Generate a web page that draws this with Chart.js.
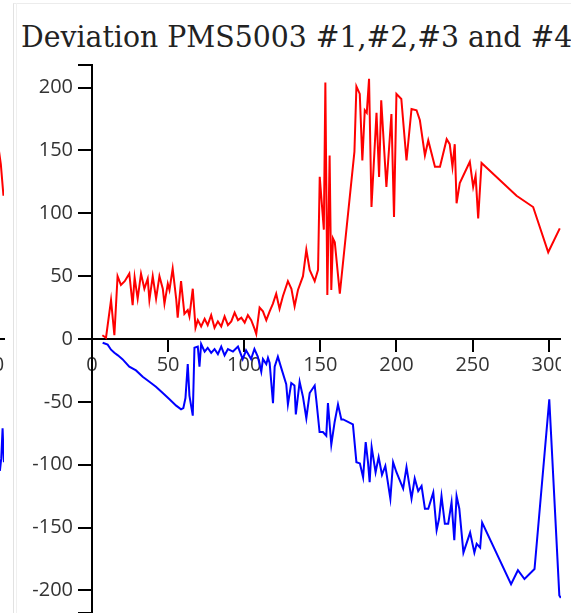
<!DOCTYPE html>
<html>
<head>
<meta charset="utf-8">
<script src="https://cdn.jsdelivr.net/npm/chart.js@4.4.1/dist/chart.umd.min.js"></script>
<style>
  html, body { margin: 0; padding: 0; background: #fff; width: 571px; height: 613px; overflow: hidden; }
  #panel { position: absolute; left: 13px; top: 3px; right: 0; bottom: 0;
           border-left: 1px solid #e2e2e2; border-top: 1px solid #ececec; }
  #panel2 { position: absolute; left: 16px; top: 3px; bottom: 0; border-left: 1px solid #f0f0f0; }
  #title { position: absolute; left: 21px; top: 20px; font-family: "DejaVu Serif", serif;
           font-size: 29px; color: #222; white-space: nowrap;
           transform: scaleX(0.977); transform-origin: 0 0; }
  #wrap { position: absolute; left: 0; top: 0; width: 561px; height: 613px; overflow: hidden; }
  #prev { position: absolute; left: -295px; top: 0; width: 300px; height: 613px; overflow: hidden; }
</style>
</head>
<body>
<div id="prev"><canvas id="p" width="300" height="613"></canvas></div>
<div id="panel"></div>
<div id="panel2"></div>
<div id="title">Deviation PMS5003 #1,#2,#3 and #4</div>
<div id="wrap"><canvas id="c" width="561" height="613"></canvas></div>
<script>
// Deviation of sensor pair #1/#2 (red) and #3/#4 (blue) per sample
const redX = [6.8, 9.2, 12.5, 14.7, 16.8, 19, 21.5, 24.5, 26.7, 28, 30, 32.2, 34.4, 36.6, 37.7, 39.9, 42.1, 44.3, 46.5, 47.6,
  49.8, 50.9, 53, 55.3, 56.3, 58.5, 60.7, 62.9, 64, 66.2, 68, 69.5, 71.7, 74, 76, 78.3, 80.5, 82.7, 84.9, 87.1,
  89.3, 91.5, 93.7, 95.9, 98.1, 100.3, 102.4, 104.6, 106.8, 107.9, 110.1, 112.3, 114.5, 116.7, 118.8, 121, 123.2, 125.4, 128.7, 131,
  133.1, 135.3, 138.6, 140.8, 143, 146.3, 148.5, 149.6, 152.3, 153.3, 154.6, 156.1, 157.2, 158.3, 159.5, 162.8, 172.4, 173.7, 175.9, 177.6,
  179.2, 180.5, 182, 183.6, 186.9, 188.6, 190, 193.4, 196.7, 198.4, 200, 203.2, 206.6, 209.9, 213.2, 215.4, 218.7, 220.9, 225.3, 228.6,
  233, 235, 236.8, 238.3, 239.5, 241.6, 248.2, 250.4, 252, 253.7, 255.9, 278.9, 289.8, 299.7, 307.3];
const redY = [3, 1, 31, 3, 50, 43, 46, 52, 27, 49, 32, 52, 40, 48, 31, 50, 32, 50, 40, 28,
  44, 39, 56, 32, 17, 46, 20, 23, 18, 40, 9, 15, 10, 16, 11, 19, 9, 14, 10, 18,
  11, 14, 21, 15, 17, 13, 19, 15, 8, 4, 25, 22, 15, 22, 28, 36, 24, 34, 46, 40,
  26, 39, 50, 71, 55, 46, 55, 129, 87, 204, 35, 146, 39, 80, 77, 36, 149, 201, 195, 142,
  182, 180, 207, 105, 180, 129, 190, 121, 179, 97, 195, 191, 142, 183, 182, 174, 146, 158, 137, 137,
  159, 155, 137, 155, 108, 124, 141, 121, 130, 96, 140, 114, 105, 69, 88];

const blueX = [7, 10.3, 12.5, 14.7, 17, 20, 24.5, 28.9, 33.3, 37.7, 42, 46.5, 50.9, 55.3, 58.5, 60, 61.4, 62.9, 64, 66.2,
  67.3, 69.5, 70.6, 71.7, 74, 76, 78.3, 80.5, 82.7, 84.9, 87.1, 89.3, 92.6, 95.9, 99, 101.2, 104.5, 106.7, 108.9, 111.2,
  112.3, 114.5, 115.6, 116.7, 118.9, 120, 122.1, 124.3, 127.6, 128.7, 130.9, 133, 133.9, 136.4, 138.6, 140.8, 143, 146.3, 147.4, 149.5,
  151.7, 153.9, 155, 157.2, 159.4, 161.6, 163.8, 165, 171.4, 173.7, 176, 178.1, 179.8, 181.3, 182.4, 183.7, 186.3, 188.3, 190.5, 192.7,
  196, 197.8, 200, 204.4, 206.6, 209.9, 212, 214.3, 216.5, 218.7, 220.9, 224.2, 226.4, 228, 229.6, 231.8, 234, 236.2, 238, 239.5,
  241.3, 244, 248.4, 251.2, 252.7, 255, 256.3, 275.3, 279.8, 284.1, 290.7, 300.4, 307, 308];
const blueY = [-3, -4.5, -8.5, -11, -13, -16, -22, -25, -30, -34, -38, -43, -48, -53, -56, -55, -47, -20, -45, -61,
  -7, -6, -22, -4, -10, -7, -11, -8, -12, -6, -13, -8, -10, -6, -16, -9, -16, -8, -14, -26,
  -16, -20, -15, -19, -51, -22, -14, -23, -36, -52, -35, -37, -60, -34, -46, -63, -43, -37, -49, -74,
  -74, -77, -51, -84, -66, -52, -64, -64, -68, -98, -99, -110, -82, -98, -114, -86, -106, -94, -108, -101,
  -127, -98, -106, -119, -102, -127, -111, -121, -117, -135, -135, -122, -152, -143, -125, -147, -147, -130, -160, -125,
  -135, -170, -154, -170, -163, -166, -146, -195, -184, -191, -183, -48, -204, -206];

// last samples of the neighbouring panel (only its right edge is in view)
const prevRedX = [300.5, 303.4, 307.3];
const prevRedY = [150, 139, 114];
const prevBlueX = [302, 304, 306, 307.3, 308];
const prevBlueY = [-105, -95, -71, -90, -98];

const xTicks = [0, 50, 100, 150, 200, 250, 300];
const yTicks = [-200, -150, -100, -50, 0, 50, 100, 150, 200];
const xMax = 308.1;
const yMin = -218, yMax = 218;

const toPoints = (xs, ys) => xs.map((x, i) => ({ x: x, y: ys[i] }));

const tickFont = { family: '"Open Sans", sans-serif', size: 20 };

function makeOptions(showY, padRight) {
  return {
    responsive: false,
    animation: false,
    devicePixelRatio: 1,
    layout: { padding: { top: 65, right: padRight, bottom: 0, left: 0 } },
    plugins: { legend: { display: false }, tooltip: { enabled: false }, title: { display: false } },
    scales: {
      x: {
        type: 'linear',
        position: { y: 0 },
        min: 0, max: xMax,
        afterBuildTicks: (s) => { s.ticks = xTicks.map(v => ({ value: v })); },
        afterFit: (s) => { s.paddingLeft = 0; s.paddingRight = 0; },
        ticks: { font: tickFont, color: '#333', padding: 2, maxRotation: 0,
                 callback: (v) => String(v) },
        grid: { drawOnChartArea: false, tickLength: 12, color: '#000', lineWidth: 2 },
        border: { color: '#000', width: 2 }
      },
      y: {
        type: 'linear',
        position: 'left',
        display: showY,
        min: yMin, max: yMax,
        afterBuildTicks: (s) => { s.ticks = [yMin].concat(yTicks, [yMax]).map(v => ({ value: v })); },
        afterFit: (s) => { s.width = 92; s.paddingTop = 0; s.paddingBottom = 0; },
        ticks: { font: tickFont, color: '#333', padding: 5,
                 callback: (v) => (yTicks.includes(v) ? String(v) : '') },
        grid: { drawOnChartArea: false, tickLength: 14, color: '#000', lineWidth: 2 },
        border: { color: '#000', width: 2 }
      }
    }
  };
}

function lineSet(label, xs, ys, color) {
  return { label: label, data: toPoints(xs, ys), borderColor: color, borderWidth: 2,
           pointRadius: 0, tension: 0, fill: false };
}

new Chart(document.getElementById('p'), {
  type: 'line',
  data: { datasets: [ lineSet('#1 - #2', prevRedX, prevRedY, '#ff0000'),
                      lineSet('#3 - #4', prevBlueX, prevBlueY, '#0000ff') ] },
  options: makeOptions(false, 1)
});

new Chart(document.getElementById('c'), {
  type: 'line',
  data: { datasets: [ lineSet('#1 - #2', redX, redY, '#ff0000'),
                      lineSet('#3 - #4', blueX, blueY, '#0000ff') ] },
  options: makeOptions(true, 0)
});
</script>
</body>
</html>
